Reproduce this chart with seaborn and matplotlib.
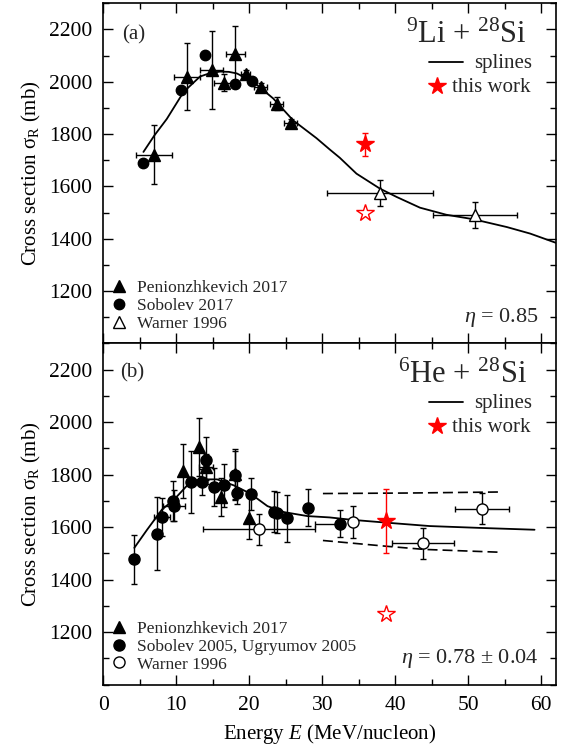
import numpy as np
import pandas as pd
import matplotlib
matplotlib.use("Agg")
import matplotlib.pyplot as plt
from matplotlib.lines import Line2D
from matplotlib.ticker import MultipleLocator, FixedLocator
import seaborn as sns

# ---------------- data: panel (a) 9Li + 28Si ----------------
a_pen_x = [6.9, 11.5, 14.85, 16.53, 18.1, 19.5, 21.6, 23.75, 25.7]
a_pen_y = [1722, 2020, 2045, 1996, 2108, 2029, 1982, 1917, 1843]
a_pen_xerr = [2.45, 1.8, 1.55, 1.3, 1.3, 0.6, 0.9, 0.9, 0.9]
a_pen_yerr = [113, 129, 148, 32, 105, 15, 15, 26, 15]

a_sob_x = [5.48, 10.6, 13.9, 18.1, 20.4]
a_sob_y = [1690, 1970, 2103, 1991, 2002]

a_war_x = [37.9, 50.9]
a_war_y = [1575, 1492]
a_war_xerr = [7.25, 5.75]
a_war_yerr = [49, 49]

a_star_x = [35.8]
a_star_y = [1761]
a_star_yerr = [45]
a_ostar_x = [35.8]
a_ostar_y = [1497]

a_spl_x = [5.5, 7.0, 8.7, 11.0, 13.25, 14.6, 16.0, 17.2, 18.3, 20.55, 23.3, 26.0, 29.2,
           31.05, 32.4, 34.7, 37.9, 40.2, 43.4, 47.0, 50.7, 55.3, 58.5, 62.0]
a_spl_y = [1732, 1795, 1858, 1961, 2020, 2033, 2039, 2038, 2032, 2000, 1936, 1853, 1785,
           1741, 1710, 1649, 1592, 1560, 1519, 1492, 1475, 1445, 1420, 1385]

# ---------------- data: panel (b) 6He + 28Si ----------------
b_pen_x = [10.96, 13.07, 14.1, 16.12, 18.0, 19.96]
b_pen_y = [1813, 1905, 1830, 1714, 1804, 1635]
b_pen_xerr = [0, 0, 1.0, 0, 0, 0]
b_pen_yerr = [103, 110, 50, 73, 95, 80]

b_sob_x = [4.25, 7.3, 8.04, 9.5, 9.68, 11.97, 13.5, 14.07, 15.2, 16.53, 18.0, 18.36,
           20.3, 23.4, 23.75, 25.2, 28.0, 32.5]
b_sob_y = [1477, 1575, 1638, 1699, 1682, 1771, 1771, 1854, 1754, 1760, 1797, 1731,
           1727, 1658, 1655, 1633, 1674, 1613]
b_sob_yerr = [94, 138, 73, 75, 60, 118, 50, 89, 72, 82, 95, 43, 60, 78, 78, 89, 70, 51]
b_sob_xerr_lo = [0, 0, 1.15, 0, 1.5, 0, 0, 0, 0, 0, 0, 0, 0, 0, 0, 0, 0, 3.5]
b_sob_xerr_hi = [0, 0, 1.15, 0, 1.5, 0, 0, 0, 0, 0, 0, 0, 0, 0, 0, 0, 0, 0]

b_war_x = [21.37, 34.25, 43.8, 51.9]
b_war_y = [1591, 1620, 1538, 1670]
b_war_xerr = [7.65, 0, 4.3, 3.75]
b_war_yerr = [58, 60, 60, 60]

b_star_x = [38.8]
b_star_y = [1625]
b_star_yerr = [122]
b_ostar_x = [38.8]
b_ostar_y = [1267]

b_spl_x = [4.25, 6.0, 8.04, 9.7, 11.9, 13.3, 15.6, 17.9, 20.2, 22.5, 24.8, 28.0, 31.0,
           34.0, 38.8, 44.75, 51.6, 59.1]
b_spl_y = [1521, 1590, 1667, 1705, 1771, 1782, 1782, 1759, 1727, 1680, 1657, 1642, 1637,
           1628, 1617, 1604, 1597, 1590]
b_up_x = [30.1, 42.0, 54.6]
b_up_y = [1728, 1730, 1734]
b_lo_x = [30.1, 38.8, 44.0, 54.6]
b_lo_y = [1549, 1527, 1515, 1504]

x_ticks = [0, 10, 20, 30, 40, 50, 60]
y_ticks = [1200, 1400, 1600, 1800, 2000, 2200]

# ---------------- style ----------------
sns.set_theme(style="ticks")
SERIF = ['Liberation Serif', 'DejaVu Serif']
plt.rcParams['font.family'] = SERIF
plt.rcParams['mathtext.fontset'] = 'custom'
plt.rcParams['mathtext.rm'] = 'Liberation Serif'
plt.rcParams['mathtext.it'] = 'Liberation Serif:italic'
plt.rcParams['mathtext.bf'] = 'Liberation Serif:bold'
plt.rcParams['axes.unicode_minus'] = False

fig = plt.figure(figsize=(5.71, 7.49), dpi=100)
axA = fig.add_axes([0.1809, 0.5414, 0.7923, 0.4542])
axB = fig.add_axes([0.1809, 0.0861, 0.7923, 0.4553])

eb = dict(ecolor='black', elinewidth=1.0, capsize=2.5, capthick=1.0, linestyle='none')


def style_axes(ax, show_xlabels):
    ax.set_xlim(0, 62)
    ax.set_ylim(1000, 2300)
    ax.xaxis.set_major_locator(FixedLocator(x_ticks))
    ax.xaxis.set_minor_locator(MultipleLocator(5))
    ax.yaxis.set_major_locator(FixedLocator(y_ticks))
    ax.yaxis.set_minor_locator(MultipleLocator(100))
    ax.tick_params(which='both', direction='in', top=True, right=True,
                   color='black', width=1.0, labelsize=15.5, labelcolor='black', pad=8,
                   labelfontfamily='Liberation Serif')
    ax.tick_params(which='major', length=7)
    ax.tick_params(which='minor', length=4)
    if not show_xlabels:
        ax.tick_params(axis='x', labelbottom=False)
    for s in ax.spines.values():
        s.set_color('black')
        s.set_linewidth(1.2)
    ax.set_ylabel(r'Cross section $\mathrm{\sigma}_{\mathrm{R}}$ (mb)', fontsize=15,
                  color='black', labelpad=4)
    ax.set_xlabel('')


def top_legend(ax, dy):
    t = ax.transAxes
    ax.add_line(Line2D([0.7206, 0.7944], [0.8283 + dy, 0.8283 + dy], transform=t,
                       color='black', lw=1.3))
    ax.add_line(Line2D([0.737], [0.757 + dy], transform=t, marker='*', ls='none',
                       ms=13, mfc='red', mec='red'))
    ax.text(0.9476, 0.809 + dy, 'splines', transform=t, fontsize=15, ha='right',
            va='baseline')
    ax.text(0.9432, 0.7404 + dy, 'this work', transform=t, fontsize=15, ha='right',
            va='baseline')


# ---------------- panel (a) ----------------
ax = axA
sns.lineplot(data=pd.DataFrame({'E': a_spl_x, 's': a_spl_y}), x='E', y='s', ax=ax,
             color='black', linewidth=1.3, sort=False, estimator=None)
ax.errorbar(a_war_x, a_war_y, xerr=a_war_xerr, yerr=a_war_yerr, marker='^', ms=8.5,
            mfc='white', mec='black', mew=1.0, zorder=3, **eb)
ax.errorbar(a_pen_x, a_pen_y, xerr=a_pen_xerr, yerr=a_pen_yerr, marker='^', ms=8.5,
            mfc='black', mec='black', zorder=4, **eb)
ax.plot(a_sob_x, a_sob_y, 'o', ms=7.5, color='black', zorder=5)
ax.errorbar(a_star_x, a_star_y, yerr=a_star_yerr, marker='*', ms=13, mfc='red',
            mec='red', ecolor='red', elinewidth=1.0, capsize=2.5, capthick=1.0,
            linestyle='none', zorder=6)
ax.plot(a_ostar_x, a_ostar_y, '*', ms=13, mfc='white', mec='red', mew=1.0, zorder=6)
style_axes(ax, False)

ax.text(0.0407, 0.907, '(a)', transform=ax.transAxes, fontsize=15, va='center', ha='left')
ax.text(0.936, 0.883, r'$^{9}$Li + $^{28}$Si', transform=ax.transAxes, fontsize=22,
        va='baseline', ha='right')
ax.text(0.9616, 0.063, r'$\eta$ = 0.85', transform=ax.transAxes, fontsize=16,
        va='baseline', ha='right')

top_legend(ax, 0.0)
h_bot = [Line2D([], [], marker='^', ls='none', ms=8.5, color='black'),
         Line2D([], [], marker='o', ls='none', ms=7.5, color='black'),
         Line2D([], [], marker='^', ls='none', ms=8.5, mfc='white', mec='black')]
ax.legend(h_bot, ['Penionzhkevich 2017', 'Sobolev 2017', 'Warner 1996'],
          loc='lower left', bbox_to_anchor=(0.02, 0.035), frameon=False, fontsize=12.5,
          handlelength=0.8, handletextpad=0.6, labelspacing=0.1, borderpad=0,
          borderaxespad=0)

# ---------------- panel (b) ----------------
ax = axB
sns.lineplot(data=pd.DataFrame({'E': b_spl_x, 's': b_spl_y}), x='E', y='s', ax=ax,
             color='black', linewidth=1.3, sort=False, estimator=None)
sns.lineplot(data=pd.DataFrame({'E': b_up_x, 's': b_up_y}), x='E', y='s', ax=ax,
             color='black', linewidth=1.2, sort=False, estimator=None)
sns.lineplot(data=pd.DataFrame({'E': b_lo_x, 's': b_lo_y}), x='E', y='s', ax=ax,
             color='black', linewidth=1.2, sort=False, estimator=None)
for ln in ax.get_lines()[1:3]:
    ln.set_dashes((6, 3))
ax.errorbar(b_war_x, b_war_y, xerr=b_war_xerr, yerr=b_war_yerr, marker='o', ms=8,
            mfc='white', mec='black', mew=1.0, zorder=3, **eb)
ax.errorbar(b_pen_x, b_pen_y, xerr=b_pen_xerr, yerr=b_pen_yerr, marker='^', ms=8.5,
            mfc='black', mec='black', zorder=4, **eb)
ax.errorbar(b_sob_x, b_sob_y, xerr=[b_sob_xerr_lo, b_sob_xerr_hi], yerr=b_sob_yerr,
            marker='o', ms=8, mfc='black', mec='black', zorder=5, **eb)
ax.errorbar(b_star_x, b_star_y, yerr=b_star_yerr, marker='*', ms=13, mfc='red',
            mec='red', ecolor='red', elinewidth=1.0, capsize=2.5, capthick=1.0,
            linestyle='none', zorder=6)
ax.plot(b_ostar_x, b_ostar_y, '*', ms=13, mfc='white', mec='red', mew=1.0, zorder=6)
style_axes(ax, True)
ax.set_xlabel(r'Energy $E$ (MeV/nucleon)', fontsize=15, color='black', labelpad=5)

ax.text(0.037, 0.9126, '(b)', transform=ax.transAxes, fontsize=15, va='center', ha='left')
ax.text(0.936, 0.883, r'$^{6}$He + $^{28}$Si', transform=ax.transAxes, fontsize=22,
        va='baseline', ha='right')
ax.text(0.9616, 0.063, r'$\eta$ = 0.78 $\pm$ 0.04', transform=ax.transAxes, fontsize=16,
        va='baseline', ha='right')

top_legend(ax, 0.001)
h_botB = [Line2D([], [], marker='^', ls='none', ms=8.5, color='black'),
          Line2D([], [], marker='o', ls='none', ms=8, color='black'),
          Line2D([], [], marker='o', ls='none', ms=8, mfc='white', mec='black')]
ax.legend(h_botB, ['Penionzhkevich 2017', 'Sobolev 2005, Ugryumov 2005', 'Warner 1996'],
          loc='lower left', bbox_to_anchor=(0.02, 0.035), frameon=False, fontsize=12.5,
          handlelength=0.8, handletextpad=0.6, labelspacing=0.1, borderpad=0,
          borderaxespad=0)

fig.savefig('out.png', dpi=100)
